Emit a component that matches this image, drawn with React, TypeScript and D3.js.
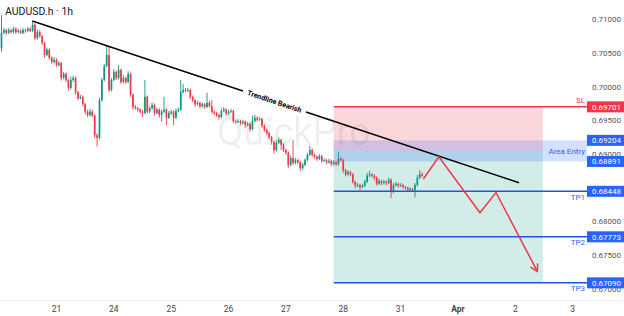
import React from "react";
import * as d3 from "d3";

const W = 624;
const H = 316;

const symbolTitle = "AUDUSD.h · 1h";
const watermark = "QuickPro";

// hourly candles: open of first bar, then closes (open = previous close)
const firstOpen = 0.7057;
const closes = [
  0.7080, 0.7084, 0.7080, 0.7084, 0.7081, 0.7086, 0.7081, 0.7083, 0.7080, 0.7084,
  0.7083, 0.7086, 0.7083, 0.7092, 0.7072, 0.7081, 0.7075, 0.7065, 0.7047, 0.7055,
  0.7043, 0.7037, 0.7040, 0.7032, 0.7035, 0.7013, 0.7019, 0.7010, 0.6998, 0.7010,
  0.7013, 0.6992, 0.6983, 0.6985, 0.6974, 0.6963, 0.6958, 0.6963, 0.6957, 0.6928,
  0.6924, 0.6980, 0.7010, 0.7031, 0.7047, 0.6995, 0.7010, 0.7022, 0.7013, 0.7025,
  0.7007, 0.7013, 0.7007, 0.7019, 0.6988, 0.6970, 0.6968, 0.6966, 0.6963, 0.6961,
  0.6985, 0.6963, 0.6968, 0.6973, 0.6961, 0.6966, 0.6958, 0.6963, 0.6966, 0.6954,
  0.6961, 0.6963, 0.6954, 0.6964, 0.6966, 0.6992, 0.6995, 0.6994, 0.6995, 0.6985,
  0.6980, 0.6974, 0.6976, 0.6971, 0.6974, 0.6970, 0.6976, 0.6971, 0.6963, 0.6961,
  0.6958, 0.6955, 0.6964, 0.6966, 0.6960, 0.6963, 0.6964, 0.6949, 0.6948, 0.6949,
  0.6946, 0.6948, 0.6943, 0.6945, 0.6937, 0.6949, 0.6954, 0.6951, 0.6952, 0.6942,
  0.6936, 0.6931, 0.6925, 0.6918, 0.6906, 0.6917, 0.6921, 0.6914, 0.6906, 0.6902,
  0.6884, 0.6894, 0.6887, 0.6891, 0.6888, 0.6879, 0.6884, 0.6891, 0.6899, 0.6906,
  0.6899, 0.6896, 0.6893, 0.6897, 0.6890, 0.6891, 0.6888, 0.6890, 0.6885, 0.6888,
  0.6885, 0.6893, 0.6891, 0.6876, 0.6870, 0.6873, 0.6870, 0.6859, 0.6853, 0.6854,
  0.6851, 0.6853, 0.6859, 0.6868, 0.6870, 0.6868, 0.6865, 0.6856, 0.6860, 0.6857,
  0.6859, 0.6857, 0.6862, 0.6844, 0.6854, 0.6856, 0.6853, 0.6854, 0.6851, 0.6850,
  0.6847, 0.6848, 0.6847, 0.6854, 0.6865, 0.6870, 0.6868,
];
// wick lengths beyond the body, in pips
const upWicks = [
  26, 3, 2, 3, 2, 3, 2, 3, 2, 3, 2, 3, 2, 5, 2, 4, 3, 2, 2, 3,
  2, 2, 4, 2, 3, 2, 3, 2, 2, 5, 3, 2, 2, 3, 2, 2, 3, 4, 3, 2,
  3, 4, 3, 3, 15, 12, 3, 4, 2, 7, 2, 4, 2, 4, 2, 2, 3, 2, 2, 3,
  25, 2, 3, 4, 2, 3, 2, 3, 19, 2, 3, 3, 2, 4, 3, 18, 9, 3, 3, 2,
  2, 2, 3, 2, 3, 2, 15, 3, 9, 2, 2, 2, 4, 4, 2, 3, 3, 2, 2, 3,
  2, 3, 2, 3, 2, 8, 4, 2, 3, 2, 2, 2, 2, 2, 2, 4, 4, 2, 2, 2,
  2, 4, 27, 3, 2, 2, 3, 3, 3, 6, 2, 2, 2, 3, 2, 3, 2, 3, 2, 3,
  2, 10, 3, 2, 2, 3, 2, 2, 2, 3, 2, 3, 3, 4, 5, 2, 2, 2, 3, 2,
  3, 2, 3, 2, 3, 3, 2, 3, 2, 2, 2, 3, 2, 3, 4, 6, 3,
];
const downWicks = [
  5, 2, 3, 2, 2, 2, 3, 2, 2, 2, 3, 2, 2, 2, 3, 2, 2, 3, 4, 2,
  3, 3, 2, 3, 2, 4, 2, 3, 4, 2, 3, 4, 3, 2, 3, 4, 3, 2, 2, 4,
  13, 2, 2, 2, 2, 3, 2, 2, 3, 2, 3, 2, 3, 2, 3, 4, 2, 3, 3, 6,
  2, 3, 2, 2, 4, 2, 4, 10, 2, 11, 2, 3, 11, 2, 2, 2, 2, 2, 2, 3,
  3, 4, 2, 3, 2, 3, 2, 2, 3, 3, 3, 4, 2, 2, 3, 2, 2, 3, 3, 2,
  3, 2, 4, 2, 4, 2, 2, 3, 2, 3, 3, 3, 3, 4, 5, 2, 2, 8, 3, 3,
  5, 2, 3, 2, 3, 4, 2, 2, 2, 2, 3, 3, 3, 2, 3, 2, 3, 2, 3, 2,
  3, 2, 2, 4, 3, 2, 3, 3, 4, 2, 5, 2, 2, 2, 2, 3, 3, 3, 2, 3,
  2, 3, 2, 9, 2, 2, 3, 2, 3, 3, 3, 2, 3, 11, 2, 2, 2,
];

const dayLabels = ["21", "24", "25", "26", "27", "28", "31", "Apr", "2", "3"];
const dayBarIndex = [23, 47, 71, 95, 119, 143, 167, 191, 215, 239];
const priceTicks = [0.71, 0.705, 0.7, 0.695, 0.69, 0.68, 0.675, 0.67];

const slPrice = 0.69701;
const entryTop = 0.69204;
const entryBottom = 0.68891;
const entryPrice = 0.69048;
const tpPrices = [0.68448, 0.67773, 0.6709];
const tpNames = ["TP1", "TP2", "TP3"];
const boxStartBar = 139;
const boxEndBar = 226.5;

const trendBars = [12.9, 216.5];
const trendPrices = [0.70975, 0.68576];
const trendLabel = "Trendline Bearish";

const pathBars = [176.5, 183, 200.2, 206.9, 224.2];
const pathPrices = [0.6863, 0.6896, 0.6813, 0.6843, 0.6726];

const UP = "#089981";
const DOWN = "#f23645";
const BLUE = "#2962ff";
const FONT = "Roboto, 'Noto Sans', sans-serif";

export default function App() {
  const x = d3.scaleLinear().domain([0, 239]).range([1.5, 572.7]);
  const y = d3.scaleLinear().domain([0.67, 0.71]).range([288.9, 19.3]);
  const plotRight = 587;

  const candles = closes.map((c, i) => {
    const o = i === 0 ? firstOpen : closes[i - 1];
    const h = Math.max(o, c) + upWicks[i] * 0.0001;
    const l = Math.min(o, c) - downWicks[i] * 0.0001;
    return { i, o, h, l, c };
  });

  // trendline with gap for its label
  const tx1 = x(trendBars[0]), ty1 = y(trendPrices[0]);
  const tx2 = x(trendBars[1]), ty2 = y(trendPrices[1]);
  const slope = (ty2 - ty1) / (tx2 - tx1);
  const gapA = 243, gapB = 306;
  const ly = (xx: number) => ty1 + (xx - tx1) * slope;
  const angle = (Math.atan(slope) * 180) / Math.PI;
  const labelX = (gapA + gapB) / 2;

  const linePath = d3
    .line<number>()
    .x((_, k) => x(pathBars[k]))
    .y((p) => y(p))(pathPrices) as string;
  const n = pathBars.length;
  const tipX = x(pathBars[n - 1]), tipY = y(pathPrices[n - 1]);
  const prevX = x(pathBars[n - 2]), prevY = y(pathPrices[n - 2]);
  const dir = Math.atan2(tipY - prevY, tipX - prevX);
  const arm = 8;
  const a1 = dir + Math.PI - Math.PI / 6;
  const a2 = dir + Math.PI + Math.PI / 6;
  const arrowHead = `M${tipX + arm * Math.cos(a1)},${tipY + arm * Math.sin(a1)}L${tipX},${tipY}L${tipX + arm * Math.cos(a2)},${tipY + arm * Math.sin(a2)}`;

  const bx0 = x(boxStartBar), bx1 = x(boxEndBar);

  const boxLabels = [
    { p: slPrice, color: DOWN },
    { p: entryTop, color: BLUE },
    { p: entryBottom, color: BLUE },
    ...tpPrices.map((p) => ({ p, color: BLUE })),
  ];

  return (
    <svg
      width={W}
      height={H}
      style={{ position: "absolute", left: 0, top: 0, background: "#fff" }}
      fontFamily={FONT}
    >
      <rect x={0} y={0} width={W} height={H} fill="#fff" />

      {/* risk / reward zones */}
      <rect x={bx0} y={y(slPrice)} width={bx1 - bx0} height={y(entryPrice) - y(slPrice)} fill={DOWN} fillOpacity={0.2} />
      <rect x={bx0} y={y(entryPrice)} width={bx1 - bx0} height={y(tpPrices[2]) - y(entryPrice)} fill={UP} fillOpacity={0.18} />
      <rect x={bx0} y={y(entryTop)} width={plotRight - bx0} height={y(entryBottom) - y(entryTop)} fill={BLUE} fillOpacity={0.2} />

      {/* watermark */}
      <text x={217} y={145} fontSize={38} fill="#000" fillOpacity={0.08} fontFamily={FONT}>
        {watermark}
      </text>

      {/* candles */}
      {candles.map((d) => {
        const col = d.c >= d.o ? UP : DOWN;
        const cx = x(d.i);
        const top = y(Math.max(d.o, d.c));
        const bot = y(Math.min(d.o, d.c));
        return (
          <g key={d.i}>
            <line x1={cx} x2={cx} y1={y(d.h)} y2={y(d.l)} stroke={col} strokeWidth={0.9} />
            <rect x={cx - 0.85} y={top} width={1.7} height={Math.max(0.8, bot - top)} fill={col} />
          </g>
        );
      })}

      {/* SL / TP lines */}
      <line x1={bx0} x2={plotRight} y1={y(slPrice)} y2={y(slPrice)} stroke={DOWN} strokeWidth={1.5} />
      {tpPrices.map((p, k) => (
        <line key={k} x1={bx0} x2={plotRight} y1={y(p)} y2={y(p)} stroke="#1e53e5" strokeWidth={1.5} />
      ))}

      {/* labels in plot */}
      <text x={585} y={y(slPrice) - 4} textAnchor="end" fontSize={8} fill={DOWN}>SL</text>
      <text x={585} y={y(entryPrice) + 3} textAnchor="end" fontSize={8} fill={BLUE}>Area Entry</text>
      {tpPrices.map((p, k) => (
        <text key={k} x={585} y={y(p) + 8.5} textAnchor="end" fontSize={8} fill={BLUE}>
          {tpNames[k]}
        </text>
      ))}

      {/* trendline */}
      <line x1={tx1} y1={ty1} x2={gapA} y2={ly(gapA)} stroke="#000" strokeWidth={1.5} />
      <line x1={gapB} y1={ly(gapB)} x2={tx2} y2={ty2} stroke="#000" strokeWidth={1.5} />
      <text
        x={labelX}
        y={ly(labelX)}
        transform={`rotate(${angle},${labelX},${ly(labelX)})`}
        textAnchor="middle"
        dominantBaseline="central"
        fontSize={7.2}
        fontWeight="bold"
        fill="#000"
      >
        {trendLabel}
      </text>

      {/* projected path */}
      <path d={linePath} fill="none" stroke={DOWN} strokeWidth={1.5} strokeLinejoin="miter" />
      <path d={arrowHead} fill="none" stroke={DOWN} strokeWidth={1.5} />

      {/* title */}
      <text x={5} y={15} fontSize={10.5} fill="#131722">{symbolTitle}</text>

      {/* price axis */}
      {priceTicks.map((p) => (
        <text key={p} x={592} y={y(p)} dy="0.35em" fontSize={8} fill="#555">
          {d3.format(".5f")(p)}
        </text>
      ))}
      {boxLabels.map((b) => (
        <g key={b.p}>
          <rect x={587} y={y(b.p) - 5.5} width={37} height={11} fill={b.color} />
          <text x={592} y={y(b.p)} dy="0.35em" fontSize={8} fill="#fff">
            {d3.format(".5f")(b.p)}
          </text>
        </g>
      ))}

      {/* time axis */}
      <line x1={0} x2={W} y1={300.5} y2={300.5} stroke="#eef0f3" strokeWidth={1} />
      {dayLabels.map((lab, k) => (
        <text
          key={lab}
          x={x(dayBarIndex[k])}
          y={311.5}
          textAnchor="middle"
          fontSize={8.5}
          fontWeight={lab === "Apr" ? "bold" : "normal"}
          fill="#444"
        >
          {lab}
        </text>
      ))}
    </svg>
  );
}
